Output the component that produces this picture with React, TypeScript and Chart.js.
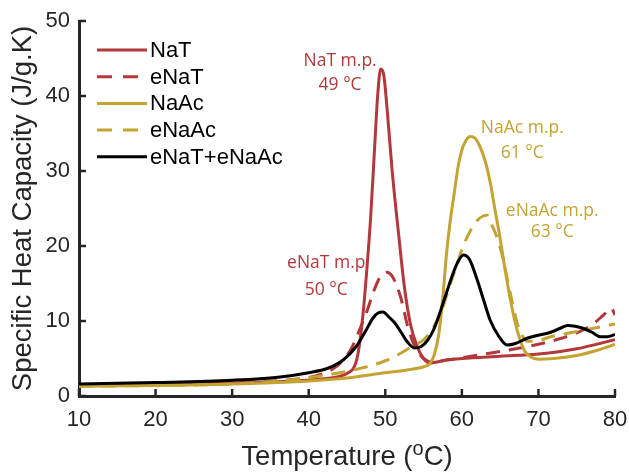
import React, { useEffect, useRef } from 'react';
import { Chart, registerables } from 'chart.js';

Chart.register(...registerables);

const RED = '#B2383B';
const GOLD = '#C3A332';
const BLACK = '#000000';
const AXIS = '#262626';
const SANS = '"Liberation Sans", Arial, Helvetica, sans-serif';
const ANNOT_FONT = '"Open Sans", "Noto Sans", sans-serif';

// ---- data (Temperature °C, Specific heat capacity J/g.K) ----
const natT = [10, 20, 30, 38, 42, 44, 45, 46, 46.5, 47.1, 47.6, 48.1, 48.6, 49.0, 49.4, 49.8, 50.3, 50.9, 51.8, 52.5, 53.3, 54.2, 55.0, 55.8, 56.5, 58, 60, 65, 70, 75, 80];
const natV = [1.5, 1.6, 1.75, 2.0, 2.3, 2.6, 3.0, 4.0, 6.0, 11, 17, 24, 33, 40, 43.6, 42.8, 37.5, 30, 21, 14.5, 9.5, 6.5, 5.0, 4.4, 4.5, 4.8, 5.0, 5.3, 5.6, 6.3, 7.5];

const enatT = [10, 20, 30, 38, 41, 43, 44.5, 45.5, 46.5, 47.5, 48.5, 49.3, 50.2, 51, 52, 53, 54, 55, 56.2, 58, 60, 63, 66, 70, 73, 75, 77, 78.5, 79.5, 80];
const enatV = [1.5, 1.6, 1.8, 2.2, 2.7, 3.5, 4.8, 6.2, 8.5, 11, 14, 15.8, 16.5, 15.8, 13.2, 9, 6.3, 5.0, 4.5, 4.8, 5.1, 5.6, 6.1, 6.9, 7.7, 8.4, 9.5, 10.8, 11.7, 10.8];

const naacT = [10, 20, 30, 40, 45, 50, 53, 55, 55.8, 56.4, 57, 57.5, 58, 58.5, 59, 59.5, 60, 60.5, 61.1, 61.7, 62.3, 63, 63.7, 64.3, 65, 65.7, 66.5, 67.3, 68.2, 69, 70, 72, 75, 78, 80];
const naacV = [1.3, 1.4, 1.6, 2.0, 2.4, 3.1, 3.5, 3.9, 4.3, 5.5, 8.3, 13, 19, 23.5, 27, 30.5, 32.8, 34.0, 34.6, 34.4, 33.4, 31.5, 28.5, 25, 21, 16.5, 12, 8.5, 6.0, 5.2, 4.9, 5.0, 5.4, 6.2, 6.9];

const enaacT = [10, 20, 30, 39, 44, 47.6, 50, 52, 53.5, 55, 56.2, 57.2, 58.3, 59.4, 60.3, 61.1, 62, 62.8, 63.3, 64, 64.5, 65, 65.5, 66, 66.6, 67.2, 67.8, 68.5, 69.5, 71.6, 74, 76, 78, 80];
const enaacV = [1.3, 1.4, 1.6, 2.3, 3.1, 3.9, 4.7, 5.7, 6.6, 7.5, 9, 11, 14.3, 17.7, 20.3, 22, 23.4, 24.0, 24.1, 22.6, 21.4, 19.8, 17.8, 15.3, 12.4, 9.8, 8.2, 7.3, 7.3, 7.9, 8.4, 8.8, 9.2, 9.6];

const mixT = [10, 20, 30, 36, 40, 42.5, 44.5, 46.2, 47.4, 48.4, 49.1, 49.7, 50.4, 51.2, 52, 52.9, 53.8, 54.7, 55.5, 56.3, 57.2, 58.1, 58.8, 59.4, 60.2, 61, 62, 62.9, 63.7, 64.8, 65.9, 67, 68.5, 70, 71.6, 73, 73.8, 74.8, 75.9, 77, 78.1, 79, 80];
const mixV = [1.6, 1.8, 2.1, 2.5, 3.1, 3.7, 4.8, 6.6, 8.6, 10.4, 11.1, 11.2, 10.6, 9.8, 8.6, 7.2, 6.4, 6.6, 7.4, 8.8, 11.3, 14.1, 16.2, 17.7, 18.8, 18.2, 15.5, 12.6, 10.1, 8.0, 6.8, 7.0, 7.7, 8.1, 8.5, 9.1, 9.4, 9.3, 9.0, 8.5, 7.9, 7.9, 8.2];

const seriesLabels = ['NaT', 'eNaT', 'NaAc', 'eNaAc', 'eNaT+eNaAc'];

const xTicks = [10, 20, 30, 40, 50, 60, 70, 80];
const yTicks = [0, 10, 20, 30, 40, 50];

// annotation text (two lines each), positioned in data coordinates
const annotTop = ['NaT m.p.', 'NaAc m.p.', 'eNaAc m.p.', 'eNaT m.p'];
const annotBottom = ['49 °C', '61 °C', '63 °C', '50 °C'];
const annotT = [44.1, 67.9, 71.8, 42.3];
const annotTopV = [44.7, 35.7, 24.7, 17.7];
const annotBottomV = [41.5, 32.4, 21.9, 14.1];
const annotColor = [RED, GOLD, GOLD, RED];

const pts = (t: number[], v: number[]) => t.map((x, i) => ({ x, y: v[i] }));

const innerTicksPlugin = {
  id: 'innerTicks',
  afterDraw(chart: any) {
    const { ctx, chartArea, scales } = chart;
    ctx.save();
    ctx.strokeStyle = AXIS;
    ctx.lineWidth = 2.5;
    xTicks.forEach((t) => {
      const px = scales.x.getPixelForValue(t);
      ctx.beginPath();
      ctx.moveTo(px, chartArea.bottom);
      ctx.lineTo(px, chartArea.bottom - 7);
      ctx.stroke();
    });
    yTicks.forEach((t) => {
      const py = scales.y.getPixelForValue(t);
      ctx.beginPath();
      ctx.moveTo(chartArea.left, py);
      ctx.lineTo(chartArea.left + 7, py);
      ctx.stroke();
    });
    ctx.restore();
  },
};

const annotationPlugin = {
  id: 'annots',
  afterDatasetsDraw(chart: any) {
    const { ctx, scales } = chart;
    ctx.save();
    ctx.font = `17.5px ${ANNOT_FONT}`;
    ctx.textAlign = 'center';
    ctx.textBaseline = 'middle';
    annotTop.forEach((txt, i) => {
      ctx.fillStyle = annotColor[i];
      const px = scales.x.getPixelForValue(annotT[i]);
      ctx.fillText(txt, px, scales.y.getPixelForValue(annotTopV[i]));
      ctx.fillText(annotBottom[i], px, scales.y.getPixelForValue(annotBottomV[i]));
    });
    ctx.restore();
  },
};

const legendPlugin = {
  id: 'innerLegend',
  afterDraw(chart: any) {
    const { ctx, chartArea } = chart;
    const x0 = chartArea.left + 18;
    const lineLen = 50;
    ctx.save();
    ctx.font = `22px ${SANS}`;
    ctx.textAlign = 'left';
    ctx.textBaseline = 'middle';
    chart.data.datasets.forEach((ds: any, i: number) => {
      const y = chartArea.top + 29 + i * 26.7;
      ctx.strokeStyle = ds.borderColor;
      ctx.lineWidth = 3;
      ctx.setLineDash(ds.borderDash && ds.borderDash.length ? [15, 11] : []);
      ctx.beginPath();
      ctx.moveTo(x0, y);
      ctx.lineTo(x0 + lineLen, y);
      ctx.stroke();
      ctx.setLineDash([]);
      ctx.fillStyle = '#000';
      ctx.fillText(ds.label, x0 + 53, y + 1);
    });
    ctx.restore();
  },
};

const xTitlePlugin = {
  id: 'xTitle',
  afterDraw(chart: any) {
    const { ctx, chartArea } = chart;
    ctx.save();
    const big = `27.5px ${SANS}`;
    const small = `20px ${SANS}`;
    const p1 = 'Temperature (';
    const p2 = 'o';
    const p3 = 'C)';
    ctx.font = big;
    const w1 = ctx.measureText(p1).width;
    const w3 = ctx.measureText(p3).width;
    ctx.font = small;
    const w2 = ctx.measureText(p2).width;
    const total = w1 + w2 + w3;
    const cx = (chartArea.left + chartArea.right) / 2;
    let x = cx - total / 2;
    const base = chartArea.bottom + 69;
    ctx.fillStyle = AXIS;
    ctx.textAlign = 'left';
    ctx.textBaseline = 'alphabetic';
    ctx.font = big;
    ctx.fillText(p1, x, base);
    x += w1;
    ctx.font = small;
    ctx.fillText(p2, x, base - 10);
    x += w2;
    ctx.font = big;
    ctx.fillText(p3, x, base);
    ctx.restore();
  },
};

export default function App() {
  const ref = useRef<HTMLCanvasElement | null>(null);

  useEffect(() => {
    document.body.style.margin = '0';
    const canvas = ref.current;
    if (!canvas) return;
    const mk = (label: string, t: number[], v: number[], color: string, dashed: boolean, order: number) => ({
      label,
      data: pts(t, v),
      borderColor: color,
      backgroundColor: color,
      borderWidth: 3,
      borderDash: dashed ? [14, 9] : [],
      pointRadius: 0,
      fill: false,
      cubicInterpolationMode: 'monotone' as const,
      order,
    });
    const chart = new Chart(canvas, {
      type: 'line',
      data: {
        datasets: [
          mk(seriesLabels[0], natT, natV, RED, false, 4),
          mk(seriesLabels[1], enatT, enatV, RED, true, 3),
          mk(seriesLabels[2], naacT, naacV, GOLD, false, 2),
          mk(seriesLabels[3], enaacT, enaacV, GOLD, true, 1),
          mk(seriesLabels[4], mixT, mixV, BLACK, false, 0),
        ],
      },
      options: {
        animation: false,
        responsive: false,
        maintainAspectRatio: false,
        layout: { padding: { top: 21, right: 14, left: 0, bottom: 0 } },
        plugins: {
          legend: { display: false },
          tooltip: { enabled: false },
        },
        scales: {
          x: {
            type: 'linear',
            min: 10,
            max: 80,
            afterFit: (s: any) => { s.height = 76; s.paddingLeft = 0; s.paddingRight = 0; },
            afterBuildTicks: (s: any) => { s.ticks = xTicks.map((value) => ({ value })); },
            grid: { display: false, drawTicks: false },
            border: { display: true, color: AXIS, width: 3 },
            ticks: {
              color: AXIS,
              font: { family: SANS, size: 22 },
              padding: 11,
              maxRotation: 0,
              autoSkip: false,
            },
          },
          y: {
            type: 'linear',
            min: 0,
            max: 50,
            afterFit: (s: any) => { s.width = 79; s.paddingTop = 0; s.paddingBottom = 0; },
            afterBuildTicks: (s: any) => { s.ticks = yTicks.map((value) => ({ value })); },
            grid: { display: false, drawTicks: false },
            border: { display: true, color: AXIS, width: 3 },
            ticks: {
              color: AXIS,
              font: { family: SANS, size: 22 },
              padding: 9,
              autoSkip: false,
            },
            title: {
              display: true,
              text: 'Specific Heat Capacity (J/g.K)',
              color: AXIS,
              font: { family: SANS, size: 27.5 },
              padding: { top: 7, bottom: 0 },
            },
          },
        },
      },
      plugins: [innerTicksPlugin, annotationPlugin, legendPlugin, xTitlePlugin],
    } as any);
    return () => chart.destroy();
  }, []);

  return (
    <div style={{ width: 629, height: 472, background: '#fff' }}>
      <canvas ref={ref} width={629} height={472} style={{ display: 'block' }} />
    </div>
  );
}
